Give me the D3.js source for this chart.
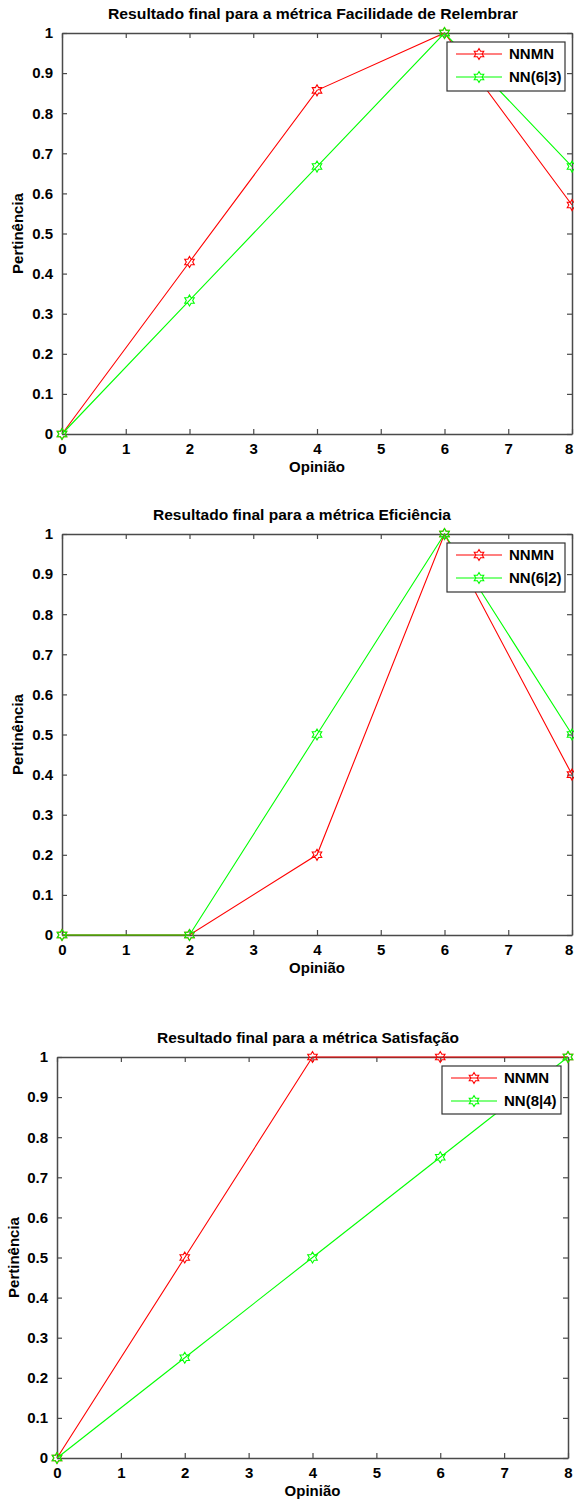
<!DOCTYPE html>
<html><head><meta charset="utf-8">
<script src="https://cdn.jsdelivr.net/npm/d3@7"></script>
<style>
html,body{margin:0;padding:0;background:#fff;}
svg{display:block;}
text{font-family:"Liberation Sans Narrow","Arial Narrow","Liberation Sans",sans-serif;font-weight:bold;fill:#000;}
</style></head>
<body>
<script>
// ---- data ----
const opinion = [0, 2, 4, 6, 8];
const xTicks = [0, 1, 2, 3, 4, 5, 6, 7, 8];
const yTicks = [0, 0.1, 0.2, 0.3, 0.4, 0.5, 0.6, 0.7, 0.8, 0.9, 1];
const titles = [
  "Resultado final para a métrica Facilidade de Relembrar",
  "Resultado final para a métrica Eficiência",
  "Resultado final para a métrica Satisfação"
];
const nnmnFacilidade = [0, 0.429, 0.857, 1, 0.571];
const nnFacilidade   = [0, 0.333, 0.667, 1, 0.667];
const nnmnEficiencia = [0, 0, 0.2, 1, 0.4];
const nnEficiencia   = [0, 0, 0.5, 1, 0.5];
const nnmnSatisfacao = [0, 0.5, 1, 1, 1];
const nnSatisfacao   = [0, 0.25, 0.5, 0.75, 1];
const redLabels = ["NNMN", "NNMN", "NNMN"];
const greenLabels = ["NN(6|3)", "NN(6|2)", "NN(8|4)"];
const xLabel = "Opinião";
const yLabel = "Pertinência";

// ---- layout ----
const W = 574, H = 1501;
const panels = [
  {x0: 62, x1: 572, yT: 33, yB: 434, red: nnmnFacilidade, green: nnFacilidade, ylx: 18, leg: [447, 42, 118, 49], tc: 313, tw: 410},
  {x0: 62, x1: 572, yT: 534, yB: 935, red: nnmnEficiencia, green: nnEficiencia, ylx: 18, leg: [447, 543, 118, 49], tc: 302, tw: 298},
  {x0: 57, x1: 568, yT: 1057, yB: 1458, red: nnmnSatisfacao, green: nnSatisfacao, ylx: 14, leg: [442, 1066, 119, 48], tc: 308, tw: 302}
];

const svg = d3.select("body").append("svg").attr("width", W).attr("height", H);

function hexagram(r) {
  const pts = [];
  for (let i = 0; i < 12; i++) {
    const a = -Math.PI / 2 + i * Math.PI / 6;
    const rr = i % 2 === 0 ? r : r / Math.sqrt(3);
    pts.push([rr * Math.cos(a), rr * Math.sin(a)]);
  }
  return "M" + pts.map(p => p[0].toFixed(2) + "," + p[1].toFixed(2)).join("L") + "Z";
}
const starPath = hexagram(5.5);
const axisColor = "#4a4a4a";

panels.forEach((p, i) => {
  const x = d3.scaleLinear().domain([0, 8]).range([p.x0, p.x1]);
  const y = d3.scaleLinear().domain([0, 1]).range([p.yB, p.yT]);
  const g = svg.append("g");

  const fmt = d => d === 0 ? "0" : d === 1 ? "1" : d3.format(".1f")(d);
  const bottom = g.append("g").attr("transform", `translate(0,${p.yB})`)
    .call(d3.axisBottom(x).tickValues(xTicks).tickSizeInner(-5).tickSizeOuter(0).tickPadding(9).tickFormat(d3.format("d")));
  const top = g.append("g").attr("transform", `translate(0,${p.yT})`)
    .call(d3.axisTop(x).tickValues(xTicks).tickSizeInner(-5).tickSizeOuter(0).tickFormat(""));
  const left = g.append("g").attr("transform", `translate(${p.x0},0)`)
    .call(d3.axisLeft(y).tickValues(yTicks).tickSizeInner(-5).tickSizeOuter(0).tickPadding(9).tickFormat(fmt));
  const right = g.append("g").attr("transform", `translate(${p.x1},0)`)
    .call(d3.axisRight(y).tickValues(yTicks).tickSizeInner(-5).tickSizeOuter(0).tickFormat(""));
  [bottom, top, left, right].forEach(a => {
    a.select(".domain").attr("stroke", axisColor).attr("stroke-width", 1.5);
    a.selectAll(".tick line").attr("stroke", axisColor).attr("stroke-width", 1.2);
    a.selectAll(".tick text").style("font-size", "15px").attr("fill", "#000");
  });
  // keep last x tick label inside the page
  bottom.selectAll(".tick text").filter(d => d === 8 && p.x1 > 570).attr("text-anchor", "end").attr("dx", "0.05em");

  // series
  const line = d3.line().x((d, k) => x(opinion[k])).y(d => y(d));
  [[p.red, "#ff0000"], [p.green, "#00ff00"]].forEach(([vals, col]) => {
    g.append("path").datum(vals).attr("d", line).attr("fill", "none").attr("stroke", col).attr("stroke-width", 1.1);
    g.selectAll(null).data(vals).enter().append("path")
      .attr("d", starPath)
      .attr("transform", (d, k) => `translate(${x(opinion[k])},${y(d)})`)
      .attr("fill", "none").attr("stroke", col).attr("stroke-width", 1.1);
  });

  // title and labels
  g.append("text").attr("x", p.tc).attr("y", p.yT - 14)
    .attr("text-anchor", "middle").style("font-size", "15px")
    .attr("textLength", p.tw).attr("lengthAdjust", "spacingAndGlyphs").text(titles[i]);
  g.append("text").attr("x", (p.x0 + p.x1) / 2).attr("y", p.yB + 38)
    .attr("text-anchor", "middle").style("font-size", "15px").text(xLabel);
  g.append("text").attr("transform", `translate(${p.ylx + 5},${(p.yT + p.yB) / 2}) rotate(-90)`)
    .attr("text-anchor", "middle").style("font-size", "15px").text(yLabel);

  // legend
  const [lx, ly, lw, lh] = p.leg;
  const lg = g.append("g");
  lg.append("rect").attr("x", lx).attr("y", ly).attr("width", lw).attr("height", lh)
    .attr("fill", "#fff").attr("stroke", "#333").attr("stroke-width", 1.2);
  [[redLabels[i], "#ff0000"], [greenLabels[i], "#00ff00"]].forEach(([lab, col], k) => {
    const yy = ly + 12 + k * 23;
    lg.append("line").attr("x1", lx + 9).attr("x2", lx + 55).attr("y1", yy).attr("y2", yy)
      .attr("stroke", col).attr("stroke-width", 1.1);
    lg.append("path").attr("d", starPath).attr("transform", `translate(${lx + 32},${yy})`)
      .attr("fill", "none").attr("stroke", col).attr("stroke-width", 1.1);
    lg.append("text").attr("x", lx + 62).attr("y", yy + 5).style("font-size", "15px").text(lab);
  });
});
</script>
</body></html>
